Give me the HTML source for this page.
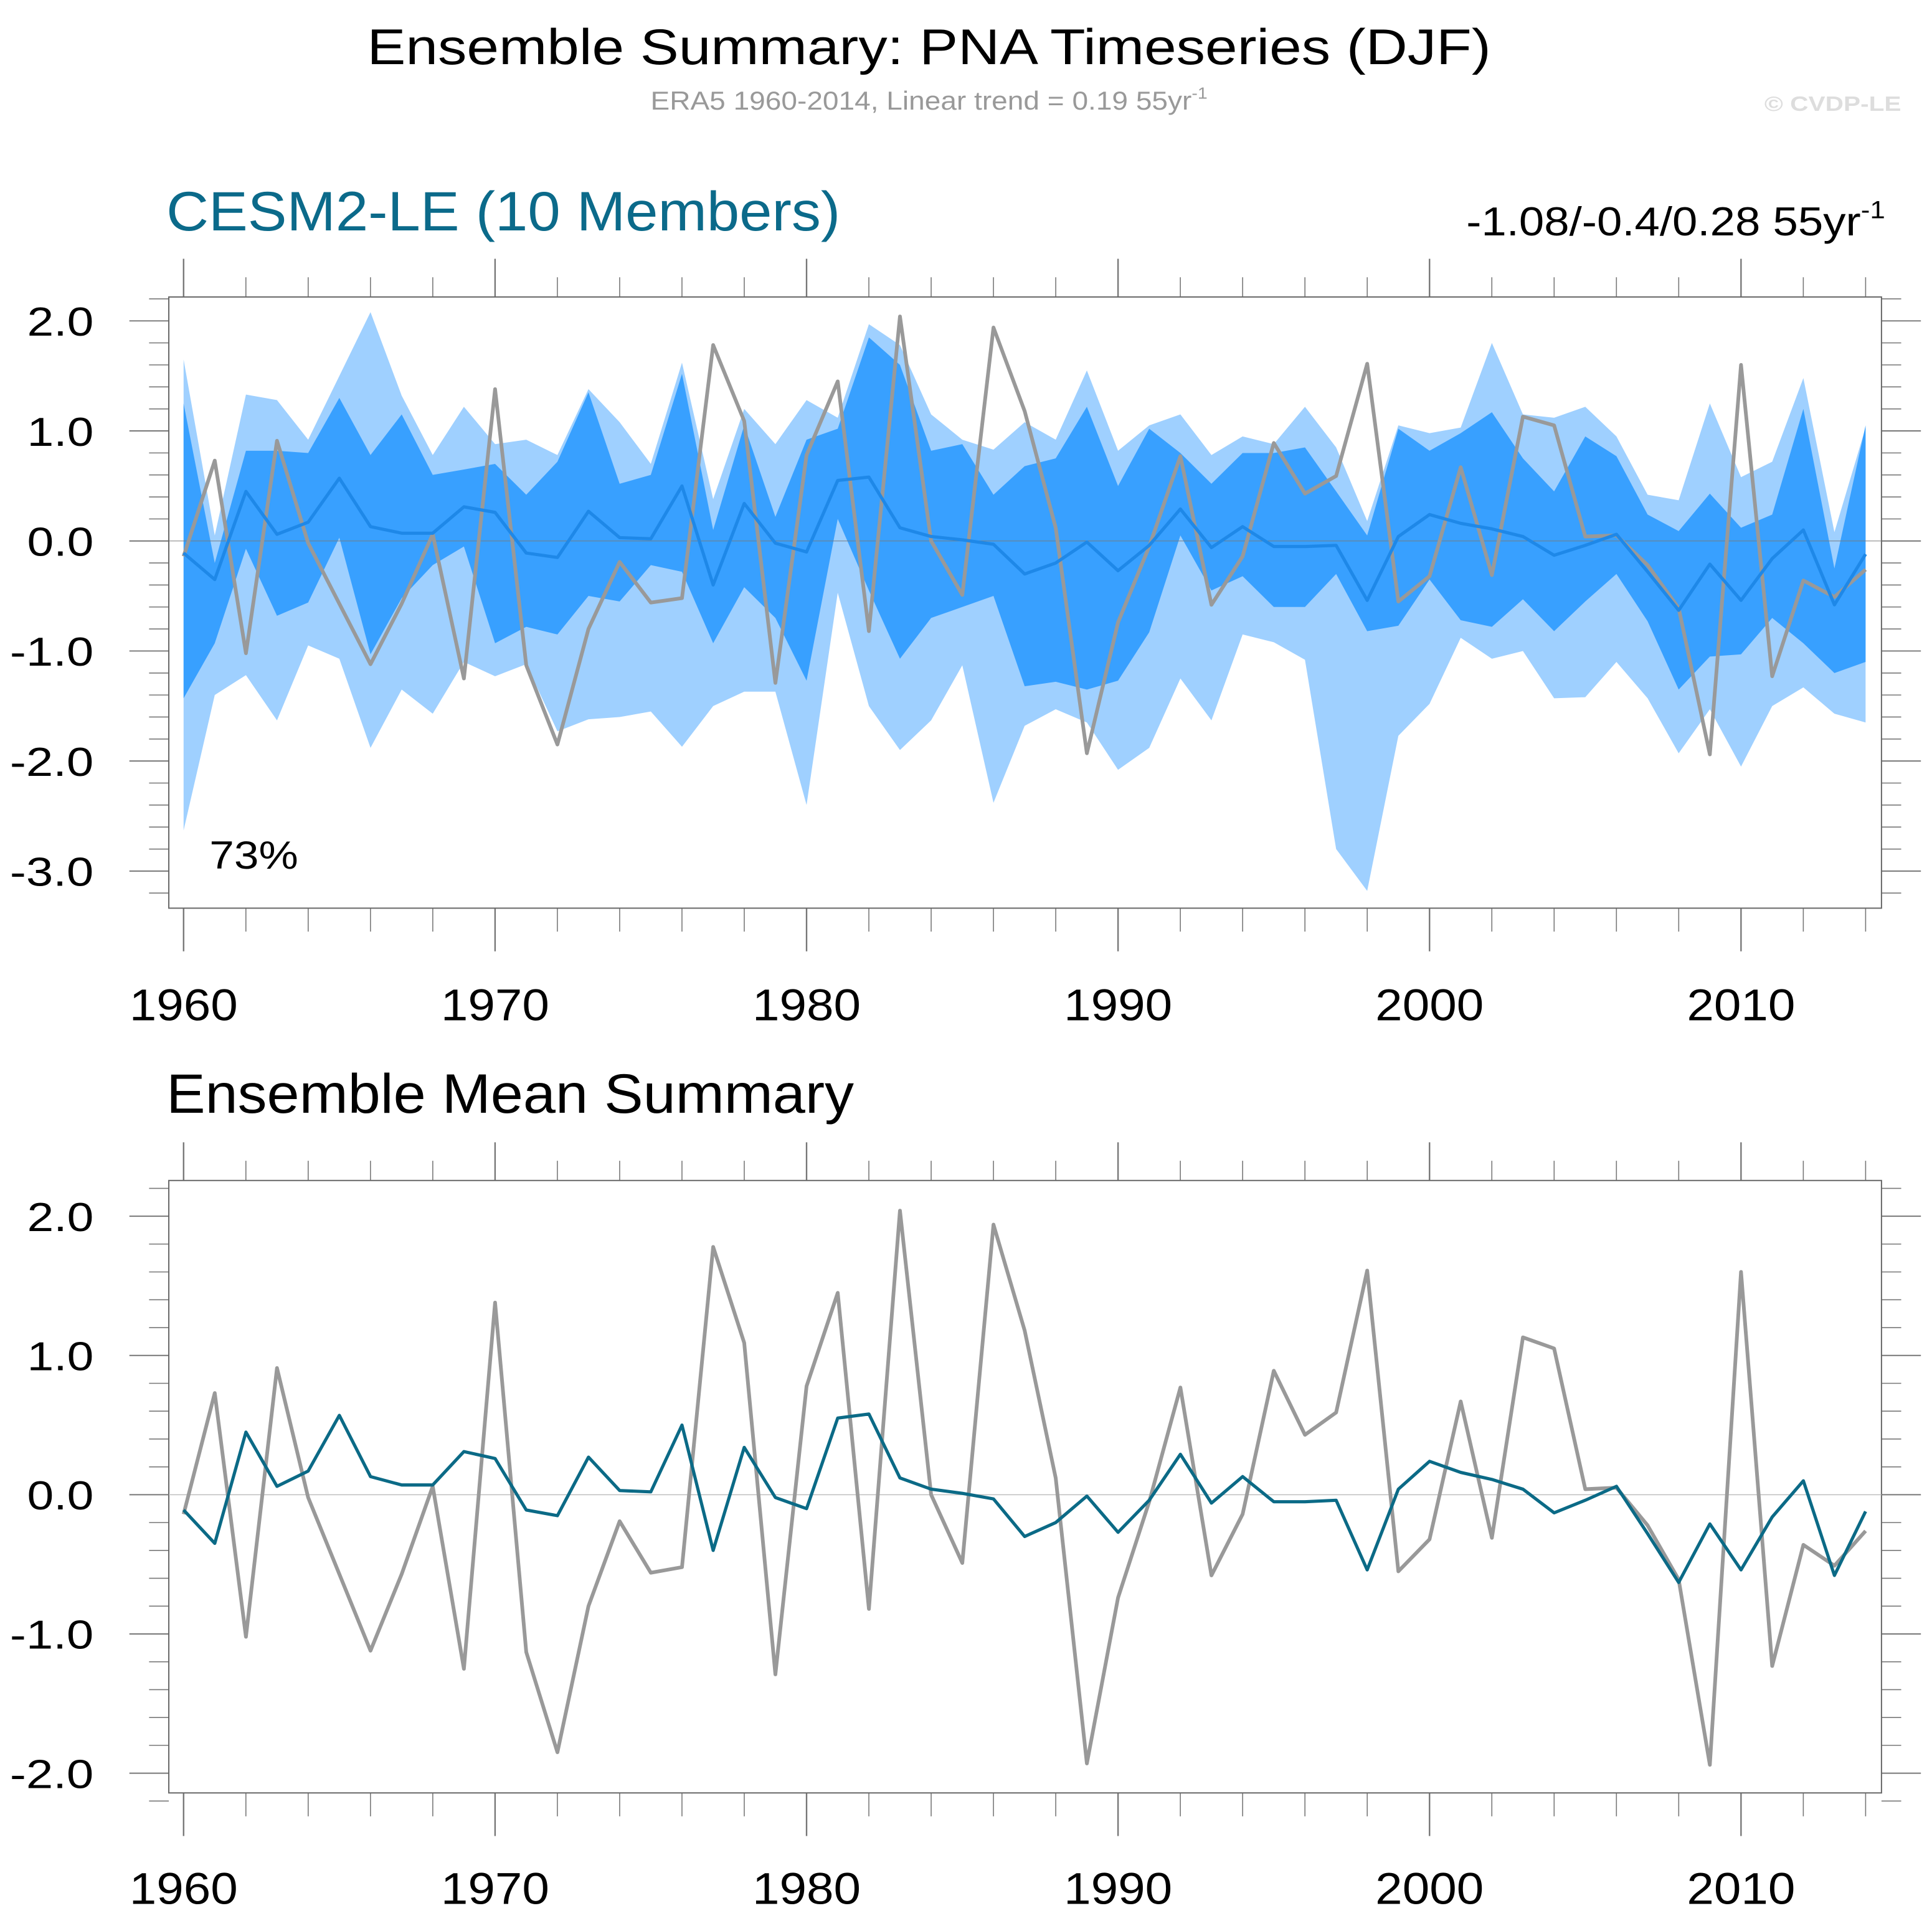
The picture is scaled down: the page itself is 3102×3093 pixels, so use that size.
<!DOCTYPE html>
<html><head><meta charset="utf-8">
<style>
html,body{margin:0;padding:0;background:#fff;}
svg{display:block;}
text{font-family:"Liberation Sans",Arial,sans-serif;}
</style></head>
<body>
<svg id="chart" width="3102" height="3093" viewBox="0 0 1568 1563" preserveAspectRatio="none" xmlns="http://www.w3.org/2000/svg">
<text x="298" y="52" font-size="41" textLength="912" lengthAdjust="spacingAndGlyphs" fill="#000">Ensemble Summary: PNA Timeseries (DJF)</text>
<text x="528" y="89" font-size="21" textLength="452" lengthAdjust="spacingAndGlyphs" fill="#999">ERA5 1960-2014, Linear trend = 0.19 55yr<tspan font-size="13" dy="-9">-1</tspan></text>
<text x="1432" y="90" font-size="17" font-weight="bold" textLength="111" lengthAdjust="spacingAndGlyphs" fill="#ddd">© CVDP-LE</text>
<text x="135" y="187" font-size="45" textLength="547" lengthAdjust="spacingAndGlyphs" fill="#0b6a8a">CESM2-LE (10 Members)</text>
<text x="1190" y="191" font-size="33" textLength="340" lengthAdjust="spacingAndGlyphs" fill="#000">-1.08/-0.4/0.28 55yr<tspan font-size="20" dy="-14">-1</tspan></text>
<text x="135" y="903" font-size="45" textLength="558" lengthAdjust="spacingAndGlyphs" fill="#000">Ensemble Mean Summary</text>
<g id="g"></g>
</svg>
<script>
const years = Array.from({length:55},(_,i)=>1960+i);
const era5 = [-0.14,0.73,-1.02,0.91,-0.02,-0.57,-1.12,-0.57,0.06,-1.25,1.38,-1.13,-1.85,-0.80,-0.19,-0.56,-0.52,1.78,1.09,-1.29,0.78,1.45,-0.82,2.04,0.0,-0.49,1.94,1.18,0.12,-1.93,-0.74,-0.05,0.77,-0.58,-0.14,0.89,0.43,0.59,1.61,-0.55,-0.32,0.67,-0.31,1.13,1.05,0.04,0.05,-0.22,-0.61,-1.94,1.60,-1.23,-0.36,-0.51,-0.26];
const ensMean = [-0.11,-0.35,0.45,0.06,0.17,0.57,0.13,0.07,0.07,0.31,0.26,-0.11,-0.15,0.27,0.03,0.02,0.50,-0.40,0.34,-0.02,-0.10,0.55,0.58,0.12,0.04,0.01,-0.03,-0.30,-0.20,-0.01,-0.27,-0.04,0.29,-0.06,0.13,-0.05,-0.05,-0.04,-0.54,0.04,0.24,0.16,0.11,0.04,-0.13,-0.04,0.06,-0.28,-0.63,-0.21,-0.54,-0.16,0.10,-0.58,-0.12];
const outerHi = [1.65,0.05,1.33,1.28,0.92,1.50,2.08,1.32,0.78,1.22,0.88,0.92,0.78,1.38,1.08,0.70,1.62,0.38,1.20,0.88,1.28,1.12,1.97,1.78,1.15,0.92,0.83,1.08,0.92,1.55,0.82,1.05,1.15,0.78,0.95,0.88,1.22,0.85,0.18,1.05,0.98,1.03,1.80,1.15,1.12,1.22,0.95,0.42,0.37,1.25,0.58,0.72,1.48,0.08,1.03];
const innerHi = [1.25,-0.20,0.82,0.82,0.80,1.30,0.78,1.15,0.60,0.65,0.70,0.42,0.72,1.35,0.52,0.60,1.52,0.10,1.05,0.22,0.92,1.02,1.85,1.60,0.82,0.88,0.42,0.68,0.75,1.22,0.50,1.02,0.80,0.52,0.80,0.80,0.85,0.45,0.05,1.02,0.82,0.98,1.17,0.75,0.45,0.95,0.77,0.24,0.09,0.43,0.12,0.24,1.20,-0.25,1.05];
const innerLo = [-1.43,-0.93,-0.07,-0.68,-0.56,0.03,-1.03,-0.52,-0.22,-0.05,-0.93,-0.78,-0.85,-0.50,-0.55,-0.22,-0.28,-0.93,-0.42,-0.70,-1.27,0.20,-0.45,-1.07,-0.70,-0.60,-0.50,-1.32,-1.28,-1.35,-1.27,-0.83,0.05,-0.45,-0.32,-0.60,-0.60,-0.30,-0.82,-0.77,-0.35,-0.72,-0.78,-0.53,-0.82,-0.55,-0.30,-0.73,-1.35,-1.05,-1.03,-0.70,-0.93,-1.20,-1.10];
const outerLo = [-2.63,-1.40,-1.22,-1.63,-0.95,-1.07,-1.88,-1.35,-1.57,-1.10,-1.23,-1.12,-1.73,-1.62,-1.60,-1.55,-1.87,-1.50,-1.37,-1.37,-2.40,-0.47,-1.50,-1.90,-1.63,-1.13,-2.38,-1.68,-1.53,-1.65,-2.08,-1.88,-1.25,-1.63,-0.85,-0.92,-1.08,-2.80,-3.18,-1.77,-1.48,-0.88,-1.07,-1.00,-1.43,-1.42,-1.10,-1.43,-1.93,-1.53,-2.05,-1.50,-1.33,-1.57,-1.65];
const xTickYears = [1960,1970,1980,1990,2000,2010];
const topYTicks = [2.0,1.0,0.0,-1.0,-2.0,-3.0];
const botYTicks = [2.0,1.0,0.0,-1.0,-2.0];

const NS="http://www.w3.org/2000/svg";
const g=document.getElementById('g');
function el(tag,attrs,parent){const e=document.createElementNS(NS,tag);for(const k in attrs)e.setAttribute(k,attrs[k]);(parent||g).appendChild(e);return e;}
const xs = y => 149 + (y-1960)*25.28;

function panel(name,top,bot,y0,ppu,yMin,yMax,yTicks,labelY){
  const L=137,R=1527;
  const ys=v=>y0 - v*ppu;
  const pg=el('g',{});
  
  
  for(let v=Math.ceil(yMin*5)/5; v<=yMax+1e-9; v+=0.2){
    const vv=Math.round(v*10)/10;
    const major=Math.abs(vv-Math.round(vv))<1e-6;
    const y=ys(vv);
    el('line',{x1:major?105:121,x2:L,y1:y,y2:y,stroke:'#777','stroke-width':major?1:0.8},pg);
    el('line',{x1:R,x2:major?1559:1543,y1:y,y2:y,stroke:'#777','stroke-width':major?1:0.8},pg);
  }
  yTicks.forEach(v=>{
    const neg=v<0;
    const t=el('text',{x:neg?8:22,y:ys(v)+12,'font-size':33,textLength:neg?68:54,lengthAdjust:'spacingAndGlyphs',fill:'#000'},pg);
    
    
    t.textContent=v.toFixed(1);
  });
  for(let yr=1960; yr<=2014; yr+=2){
    const major=(yr%10===0);
    const x=xs(yr);
    el('line',{x1:x,x2:x,y1:top,y2:top-(major?31:16),stroke:'#777','stroke-width':major?1.2:0.8},pg);
    el('line',{x1:x,x2:x,y1:bot,y2:bot+(major?35:19),stroke:'#777','stroke-width':major?1.2:0.8},pg);
  }
  xTickYears.forEach(yr=>{
    const t=el('text',{x:xs(yr)-44,y:labelY,'font-size':36,textLength:88,lengthAdjust:'spacingAndGlyphs',fill:'#000'},pg);
    
    
    t.textContent=yr;
  });
  const box=el('rect',{x:L,y:top,width:R-L,height:bot-top,fill:'none',stroke:'#666','stroke-width':1},pg);
  
  
  return {ys,pg,L,R};
}
function bandPath(hi,lo,ys){
  let d='';
  hi.forEach((v,i)=>{d+=(i?'L':'M')+xs(years[i]).toFixed(1)+','+ys(v).toFixed(1);});
  for(let i=lo.length-1;i>=0;i--) d+='L'+xs(years[i]).toFixed(1)+','+ys(lo[i]).toFixed(1);
  return d+'Z';
}
function linePath(arr,ys){return arr.map((v,i)=>(i?'L':'M')+xs(years[i]).toFixed(1)+','+ys(v).toFixed(1)).join('');}

const P1=panel('top-panel',241,737,439,89.3,-3.2,2.2,topYTicks,828);
const b1=el('path',{d:bandPath(outerHi,outerLo,P1.ys),fill:'#9fd0ff'},P1.pg);


const b2=el('path',{d:bandPath(innerHi,innerLo,P1.ys),fill:'#38a0ff'},P1.pg);


const z1=el('line',{x1:137,x2:1527,y1:P1.ys(0),y2:P1.ys(0),stroke:'#777','stroke-width':0.7,'stroke-opacity':0.7},P1.pg);


const l1=el('path',{d:linePath(era5,P1.ys),fill:'none',stroke:'#999','stroke-width':3,'stroke-linejoin':'round'},P1.pg);


const l2=el('path',{d:linePath(ensMean,P1.ys),fill:'none',stroke:'#1e88e8','stroke-width':2.6,'stroke-linejoin':'round'},P1.pg);


const pct=el('text',{x:170,y:705,'font-size':32,textLength:72,lengthAdjust:'spacingAndGlyphs',fill:'#000'},P1.pg);


pct.textContent='73%';

const P2=panel('bottom-panel',958,1455,1213,113,-2.2,2.2,botYTicks,1545);
const z2=el('line',{x1:137,x2:1527,y1:P2.ys(0),y2:P2.ys(0),stroke:'#bbb','stroke-width':0.7},P2.pg);


const l3=el('path',{d:linePath(era5,P2.ys),fill:'none',stroke:'#999','stroke-width':3,'stroke-linejoin':'round'},P2.pg);


const l4=el('path',{d:linePath(ensMean,P2.ys),fill:'none',stroke:'#0b6a86','stroke-width':2.6,'stroke-linejoin':'round'},P2.pg);


</script>
</body></html>
